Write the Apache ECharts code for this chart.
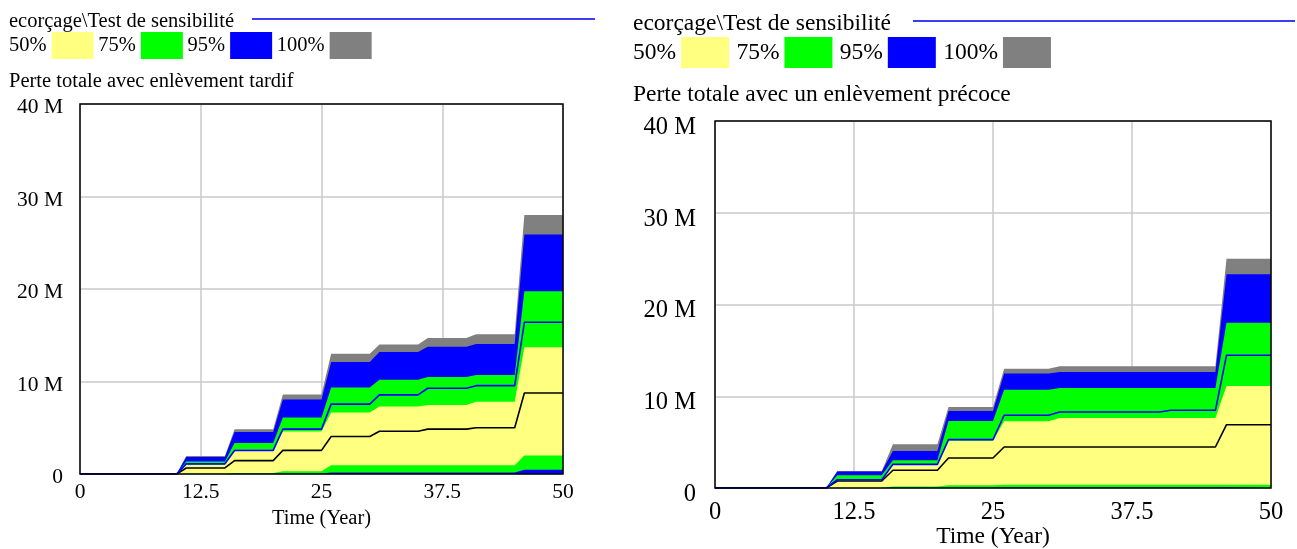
<!DOCTYPE html>
<html>
<head>
<meta charset="utf-8">
<script src="https://cdn.jsdelivr.net/npm/echarts@6/dist/echarts.min.js"></script>
<style>
html,body{margin:0;padding:0;background:#fff;}
#c{width:1297px;height:549px;}
</style>
</head>
<body>
<div id="c"></div>
<script>
// ---- data (values in millions) ----
const years = [0,10,11,15,16,20,21,25,26,30,31,35,36,40,41,45,46,50];
const xTicks = [0, 12.5, 25, 37.5, 50];
const yTickLabels = {0: '0', 10: '10 M', 20: '20 M', 30: '30 M', 40: '40 M'};
const legendNames = ['50%', '75%', '95%', '100%'];
const runTitle = 'ecorçage\\Test de sensibilité';
const chartTitles = ['Perte totale avec enlèvement tardif', 'Perte totale avec un enlèvement précoce'];
const xName = 'Time (Year)';

// Left chart: late removal
const L_p100 = [0,0,1.95,1.95,4.85,4.85,8.6,8.6,13.0,13.0,14.0,14.0,14.7,14.7,15.1,15.1,28.0,28.0];
const L_p975 = [0,0,1.85,1.85,4.55,4.55,8.05,8.05,12.1,12.1,13.2,13.2,13.75,13.75,14.05,14.05,25.9,25.9];
const L_p875 = [0,0,1.35,1.35,3.35,3.35,6.1,6.1,9.35,9.35,10.2,10.2,10.5,10.5,10.7,10.7,19.75,19.75];
const L_p75  = [0,0,1.0,1.0,2.65,2.65,4.6,4.6,6.65,6.65,7.3,7.3,7.45,7.45,7.8,7.8,13.7,13.7];
const L_p25  = [0,0,0.04,0.04,0.1,0.1,0.3,0.3,0.95,0.95,0.95,0.95,0.95,0.95,0.95,0.95,2.0,2.0];
const L_p125 = [0,0,0,0,0.02,0.02,0.05,0.05,0.15,0.15,0.15,0.15,0.15,0.15,0.15,0.15,0.47,0.47];
const L_blue = [0,0,1.1,1.1,2.55,2.55,4.85,4.85,7.55,7.55,8.55,8.55,9.27,9.27,9.55,9.55,16.4,16.4];
const L_black= [0,0,0.65,0.65,1.45,1.45,2.55,2.55,4.05,4.05,4.62,4.62,4.85,4.85,5.0,5.0,8.75,8.75];

// Right chart: early removal
const R_p100 = [0,0,1.85,1.85,4.76,4.76,8.84,8.84,13.0,13.0,13.27,13.27,13.27,13.27,13.27,13.27,25.0,25.0];
const R_p975 = [0,0,1.8,1.8,4.04,4.04,8.4,8.4,12.47,12.47,12.65,12.65,12.65,12.65,12.65,12.65,23.3,23.3];
const R_p875 = [0,0,1.38,1.38,3.02,3.02,7.3,7.3,10.7,10.7,10.9,10.9,10.9,10.9,10.9,10.9,18.0,18.0];
const R_p75  = [0,0,0.95,0.95,2.6,2.6,5.15,5.15,7.27,7.27,7.64,7.64,7.64,7.64,7.64,7.64,11.13,11.13];
const R_p25  = [0,0,0.03,0.03,0.15,0.15,0.3,0.3,0.36,0.36,0.36,0.36,0.36,0.36,0.36,0.36,0.36,0.36];
const R_p125 = [0,0,0,0,0.02,0.02,0.05,0.05,0.08,0.08,0.08,0.08,0.08,0.08,0.08,0.08,0.1,0.1];
const R_blue = [0,0,0.9,0.9,2.58,2.58,5.27,5.27,7.93,7.93,8.29,8.29,8.29,8.29,8.47,8.47,14.47,14.47];
const R_black= [0,0,0.76,0.76,1.93,1.93,3.27,3.27,4.47,4.47,4.47,4.47,4.47,4.47,4.47,4.47,6.9,6.9];

// ---- styling ----
const FONT = 'Liberation Serif';
const C_YEL = '#FFFF80', C_GRN = '#00FF00', C_BLU = '#0000FF', C_GRY = '#808080';
const pairs = arr => years.map((t, i) => [t, arr[i]]);

function bandSeries(name, color, arr, idx) {
  return {
    type: 'line', name: name, xAxisIndex: idx, yAxisIndex: idx,
    data: pairs(arr), symbol: 'none', color: color,
    lineStyle: {width: 0, color: color},
    areaStyle: {color: color, opacity: 1},
    silent: true, animation: false
  };
}
function lineSeries(name, color, arr, idx) {
  return {
    type: 'line', name: name, xAxisIndex: idx, yAxisIndex: idx,
    data: pairs(arr), symbol: 'none', color: color,
    lineStyle: {width: 1.6, color: color},
    silent: true, animation: false, z: 3
  };
}
function chartSeries(idx, d) {
  return [
    bandSeries('100%', C_GRY, d.p100, idx),
    bandSeries('95%', C_BLU, d.p975, idx),
    bandSeries('75%', C_GRN, d.p875, idx),
    bandSeries('50%', C_YEL, d.p75, idx),
    bandSeries('75%', C_GRN, d.p25, idx),
    bandSeries('95%', C_BLU, d.p125, idx),
    lineSeries('mean', '#000000', d.black, idx),
    lineSeries('run', '#0000FF', d.blue, idx)
  ];
}

const cfg = [
  {left: 80, top: 104, width: 483, height: 370, fs: 20.5, tick: 21.5, xMargin: 7, yMargin: 17, yLH: 7, nameGap: 34,
   legendLeft: 9, legendTop: 32, iw: 42, ih: 27, gap: 4.7, titleTop: 11, subTop: 71, lineX1: 252, lineX2: 595, lineY: 19},
  {left: 715, top: 121, width: 556, height: 367, fs: 23.5, tick: 24.5, xMargin: 12, yMargin: 19, yLH: 13, nameGap: 37,
   legendLeft: 633, legendTop: 37, iw: 48, ih: 31, gap: 7.3, titleTop: 12, subTop: 83, lineX1: 913, lineX2: 1295, lineY: 21}
];

const grids = [], xAxes = [], yAxes = [], legends = [], titles = [], graphics = [];
cfg.forEach((c, i) => {
  grids.push({left: c.left, top: c.top, width: c.width, height: c.height, show: true,
    outerBoundsMode: 'none', containLabel: false,
    borderColor: '#000', borderWidth: 1.5, backgroundColor: 'transparent', z: 10});
  xAxes.push({type: 'value', gridIndex: i, min: xTicks[0], max: xTicks[xTicks.length-1], interval: 12.5,
    name: xName, nameLocation: 'middle', nameGap: c.nameGap, nameMoveOverlap: false,
    nameTextStyle: {fontFamily: FONT, fontSize: c.fs, color: '#000'},
    axisLine: {show: false}, axisTick: {show: false},
    axisLabel: {fontFamily: FONT, fontSize: c.tick, color: '#000', margin: c.xMargin},
    splitLine: {show: true, lineStyle: {color: '#C8C8C8', width: 1.5}}});
  yAxes.push({type: 'value', gridIndex: i, min: 0, max: 40, interval: 10,
    axisLine: {show: false}, axisTick: {show: false},
    axisLabel: {fontFamily: FONT, fontSize: c.tick, color: '#000', margin: c.yMargin,
      verticalAlign: 'top', lineHeight: c.yLH, formatter: v => yTickLabels[v]},
    splitLine: {show: true, lineStyle: {color: '#C8C8C8', width: 1.5}}});
  legends.push({left: c.legendLeft, top: c.legendTop, padding: 0, align: 'right', orient: 'horizontal',
    itemWidth: c.iw, itemHeight: c.ih, itemGap: c.gap, selectedMode: false,
    icon: 'rect', itemStyle: {borderWidth: 0},
    textStyle: {fontFamily: FONT, fontSize: c.fs, color: '#000'},
    data: legendNames.map(n => ({name: n, icon: 'rect'}))});
  titles.push({text: runTitle, left: c.legendLeft, top: c.titleTop, padding: 0,
    textStyle: {fontFamily: FONT, fontSize: c.fs, fontWeight: 'normal', color: '#000'}});
  titles.push({text: chartTitles[i], left: c.legendLeft, top: c.subTop, padding: 0,
    textStyle: {fontFamily: FONT, fontSize: c.fs, fontWeight: 'normal', color: '#000'}});
  graphics.push({type: 'line', shape: {x1: c.lineX1, y1: c.lineY, x2: c.lineX2, y2: c.lineY},
    style: {stroke: '#3C3CF5', lineWidth: 2}, silent: true});
});

const series = [].concat(
  chartSeries(0, {p100: L_p100, p975: L_p975, p875: L_p875, p75: L_p75, p25: L_p25, p125: L_p125, blue: L_blue, black: L_black}),
  chartSeries(1, {p100: R_p100, p975: R_p975, p875: R_p875, p75: R_p75, p25: R_p25, p125: R_p125, blue: R_blue, black: R_black})
);

const chart = echarts.init(document.getElementById('c'), null, {renderer: 'canvas'});
chart.setOption({
  animation: false,
  backgroundColor: '#fff',
  title: titles,
  legend: legends,
  grid: grids,
  xAxis: xAxes,
  yAxis: yAxes,
  graphic: graphics,
  series: series
});
</script>
</body>
</html>
